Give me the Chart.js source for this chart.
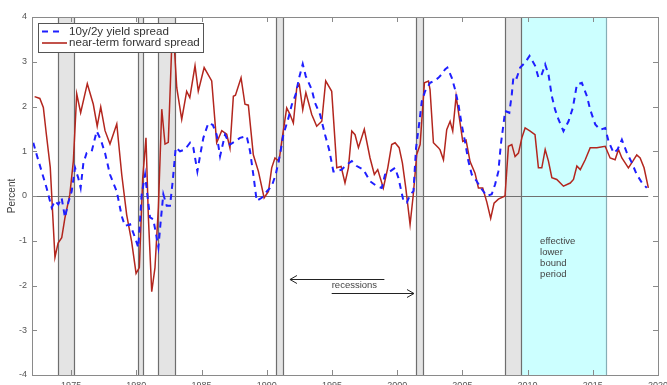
<!DOCTYPE html>
<html>
<head>
<meta charset="utf-8">
<script src="https://cdn.jsdelivr.net/npm/chart.js@4.4.1/dist/chart.umd.min.js"></script>
<style>
  html, body { margin: 0; padding: 0; background: #fff; overflow: hidden; }
  #wrap { width: 667px; height: 395px; }
</style>
</head>
<body>
<div id="wrap"><canvas id="chart" width="667" height="395"></canvas></div>
<script>
// 10y/2y yield spread (blue dashed)
const spreadYears = [1972.1, 1972.36, 1972.74, 1973.12, 1973.51, 1973.76, 1974.02, 1974.27, 1974.53, 1974.78,
  1975.04, 1975.3, 1975.55, 1975.73, 1975.94, 1976.19, 1976.58, 1976.96, 1977.27, 1977.6,
  1977.98, 1978.5, 1978.88, 1979.13, 1979.52, 1979.9, 1980.15, 1980.41, 1980.67, 1980.84,
  1981.05, 1981.3, 1981.51, 1981.69, 1981.87, 1982.07, 1982.33, 1982.58, 1982.79, 1983.02,
  1983.35, 1983.73, 1984.12, 1984.37, 1984.68, 1984.88, 1985.14, 1985.52, 1985.86, 1986.16,
  1986.42, 1986.8, 1987.18, 1987.57, 1987.95, 1988.46, 1988.72, 1988.97, 1989.23, 1989.61,
  1990.0, 1990.38, 1990.69, 1991.02, 1991.27, 1991.66, 1991.92, 1992.22, 1992.48, 1992.76,
  1992.99, 1993.45, 1993.7, 1994.09, 1994.47, 1994.78, 1995.11, 1995.37, 1995.75, 1996.13,
  1996.52, 1996.9, 1997.41, 1997.92, 1998.44, 1998.82, 1999.07, 1999.45, 1999.84, 2000.1,
  2000.48, 2000.74, 2000.99, 2001.25, 2001.45, 2001.71, 2001.89, 2002.14, 2002.52, 2002.85,
  2003.16, 2003.42, 2003.67, 2003.85, 2004.19, 2004.44, 2004.7, 2004.95, 2005.2, 2005.46,
  2005.72, 2006.1, 2006.49, 2006.87, 2007.25, 2007.51, 2007.76, 2007.95, 2008.15, 2008.28,
  2008.6, 2008.79, 2008.92, 2009.17, 2009.43, 2009.81, 2010.15, 2010.58, 2010.84, 2011.09,
  2011.35, 2011.6, 2011.86, 2012.11, 2012.37, 2012.75, 2013.14, 2013.47, 2013.78, 2014.16,
  2014.55, 2014.8, 2015.19, 2015.57, 2015.95, 2016.21, 2016.6, 2016.9, 2017.23, 2017.62,
  2018.0, 2018.37, 2018.76, 2019.14];
const spreadValues = [1.19, 0.92, 0.55, 0.18, -0.26, -0.11, -0.19, -0.04, -0.48, -0.15,
  0.1, 0.63, 0.4, 0.18, 0.74, 0.96, 1.0, 1.45, 1.26, 0.96,
  0.48, 0.1, -0.45, -0.67, -0.63, -0.93, -1.15, 0.03, 0.48, 0.04,
  -0.48, -0.52, -0.85, -1.15, -0.56, 0.04, -0.22, -0.22, 0.33, 1.08,
  1.0, 1.04, 1.19, 1.08, 0.55, 0.89, 1.3, 1.63, 1.59, 1.37,
  0.89, 1.37, 1.15, 1.22, 1.3, 1.34, 1.0, 0.48, -0.11, -0.04,
  0.1, 0.22, 0.48, 0.93, 1.37, 1.74, 2.04, 2.27, 2.64, 2.95,
  2.68, 2.38, 2.08, 1.82, 1.37, 1.04, 0.55, 0.55, 0.59, 0.7,
  0.78, 0.67, 0.59, 0.33, 0.22, 0.18, 0.48, 0.55, 0.63, 0.4,
  -0.11, -0.15, 0.03, 0.11, 1.08, 1.67, 2.12, 2.34, 2.53, 2.57,
  2.64, 2.72, 2.83, 2.87, 2.64, 2.38, 2.04, 1.59, 1.22, 0.78,
  0.48, 0.33, 0.15, 0.0, 0.04, 0.26, 0.55, 1.15, 1.6, 1.9,
  1.86, 2.27, 2.68, 2.64, 2.87, 2.98, 3.13, 2.91, 2.64, 2.72,
  2.94, 2.72, 2.23, 1.93, 1.71, 1.45, 1.67, 1.97, 2.49, 2.53,
  2.23, 1.93, 1.6, 1.48, 1.52, 1.22, 0.96, 1.04, 1.26, 0.96,
  0.74, 0.48, 0.3, 0.18];

// near-term forward spread (red solid)
const fwdYears = [1972.2, 1972.6, 1972.87, 1973.1, 1973.4, 1973.6, 1973.76, 1974.0, 1974.28, 1974.53,
  1974.9, 1975.17, 1975.43, 1975.73, 1976.24, 1976.7, 1977.0, 1977.27, 1977.6, 1977.98,
  1978.5, 1978.88, 1979.26, 1979.64, 1979.98, 1980.23, 1980.49, 1980.74, 1980.92, 1981.18,
  1981.43, 1981.69, 1981.95, 1982.2, 1982.45, 1982.71, 1982.9, 1983.1, 1983.48, 1983.86,
  1984.1, 1984.5, 1984.75, 1985.2, 1985.78, 1986.16, 1986.55, 1986.93, 1987.18, 1987.44,
  1987.6, 1988.03, 1988.33, 1988.59, 1988.97, 1989.36, 1989.8, 1990.13, 1990.38, 1990.63,
  1990.94, 1991.15, 1991.53, 1991.79, 1992.04, 1992.3, 1992.5, 1992.76, 1993.0, 1993.45,
  1993.83, 1994.22, 1994.52, 1994.98, 1995.37, 1995.7, 1996.0, 1996.26, 1996.52, 1996.77,
  1997.03, 1997.48, 1997.92, 1998.25, 1998.51, 1998.94, 1999.28, 1999.58, 1999.84, 2000.15,
  2000.4, 2000.66, 2000.99, 2001.24, 2001.5, 2001.76, 2002.09, 2002.4, 2002.52, 2002.78,
  2003.16, 2003.29, 2003.55, 2003.8, 2004.06, 2004.26, 2004.52, 2004.77, 2005.03, 2005.28,
  2005.59, 2005.97, 2006.23, 2006.56, 2006.87, 2007.17, 2007.43, 2007.76, 2008.27, 2008.53,
  2008.79, 2009.04, 2009.3, 2009.56, 2009.81, 2010.2, 2010.57, 2010.83, 2011.09, 2011.35,
  2011.6, 2011.86, 2012.24, 2012.75, 2013.27, 2013.52, 2013.78, 2014.04, 2014.42, 2014.8,
  2015.31, 2015.95, 2016.33, 2016.71, 2016.97, 2017.23, 2017.48, 2017.73, 2018.07, 2018.37,
  2018.63, 2018.93, 2019.26];
const fwdValues = [2.22, 2.18, 1.98, 1.38, 0.64, -0.48, -1.37, -1.05, -0.93, -0.48,
  0.03, 0.78, 2.28, 1.86, 2.51, 2.05, 1.56, 1.99, 1.46, 1.16,
  1.61, 0.48, -0.42, -1.02, -1.73, -1.6, 0.4, 1.3, -0.45, -2.14,
  -1.6, -0.26, 1.94, 1.16, 1.2, 3.32, 3.4, 2.42, 1.71, 2.34,
  2.2, 2.91, 2.34, 2.87, 2.57, 1.19, 1.46, 1.38, 1.07, 2.23,
  2.25, 2.64, 2.05, 2.03, 0.92, 0.55, -0.04, 0.1, 0.63, 0.85,
  0.78, 1.22, 1.97, 1.82, 1.63, 2.42, 2.49, 1.93, 2.31, 1.82,
  1.56, 1.67, 2.57, 2.34, 0.63, 0.66, 0.29, 0.63, 1.45, 1.37,
  1.08, 1.49, 0.85, 0.48, 0.59, 0.18, 0.63, 1.15, 1.19, 1.08,
  0.74, 0.18, -0.64, 0.04, 0.93, 1.15, 2.53, 2.57, 2.38, 1.19,
  1.08, 1.03, 0.81, 1.48, 1.67, 1.45, 2.23, 1.74, 1.22, 1.25,
  0.77, 0.51, 0.18, 0.18, -0.13, -0.5, -0.16, -0.07, 0.0, 1.11,
  1.15, 0.88, 0.96, 1.3, 1.52, 1.45, 1.37, 0.63, 0.63, 1.04,
  0.78, 0.41, 0.37, 0.22, 0.29, 0.37, 0.67, 0.59, 0.81, 1.08,
  1.08, 1.11, 0.85, 0.81, 1.04, 0.85, 0.74, 0.63, 0.78, 0.92,
  0.85, 0.63, 0.18];

// shaded periods
const recessionStarts = [1973.97, 1980.15, 1981.66, 1990.71, 2001.45, 2008.25];
const recessionEnds = [1975.22, 1980.49, 1982.97, 1991.22, 2002.0, 2009.5];
const zlbStart = 2009.5, zlbEnd = 2016.04;

const xTicks = [1975, 1980, 1985, 1990, 1995, 2000, 2005, 2010, 2015, 2020];
const yTicks = [-4, -3, -2, -1, 0, 1, 2, 3, 4];

const FONT = "'Liberation Sans', Arial, Helvetica, sans-serif";

function arrow(ctx, x1, x2, y) {
  const d = x2 > x1 ? -1 : 1;
  ctx.beginPath();
  ctx.moveTo(x1, y); ctx.lineTo(x2, y);
  ctx.moveTo(x2 + d * 7, y - 4); ctx.lineTo(x2, y); ctx.lineTo(x2 + d * 7, y + 4);
  ctx.stroke();
}

const matlabLook = {
  id: 'matlabLook',
  beforeDatasetsDraw(chart) {
    const {ctx, chartArea: a, scales: {x, y}} = chart;
    ctx.save();
    // effective lower bound period
    let l = x.getPixelForValue(zlbStart), r = x.getPixelForValue(zlbEnd);
    ctx.fillStyle = 'rgb(204,255,255)';
    ctx.fillRect(l, a.top, r - l, a.bottom - a.top);
    ctx.strokeStyle = '#86aeb6';
    ctx.lineWidth = 1.2;
    ctx.beginPath();
    ctx.moveTo(Math.round(r) + 0.5, a.top); ctx.lineTo(Math.round(r) + 0.5, a.bottom);
    ctx.stroke();
    // recessions
    recessionStarts.forEach((s, i) => {
      const x0 = Math.round(x.getPixelForValue(s)) + 0.5;
      const x1 = Math.round(x.getPixelForValue(recessionEnds[i])) + 0.5;
      ctx.fillStyle = '#e4e4e4';
      ctx.fillRect(x0, a.top, x1 - x0, a.bottom - a.top);
      ctx.strokeStyle = '#6e6e6e';
      ctx.lineWidth = 1.2;
      ctx.beginPath();
      ctx.moveTo(x0, a.top); ctx.lineTo(x0, a.bottom);
      ctx.moveTo(x1, a.top); ctx.lineTo(x1, a.bottom);
      ctx.stroke();
    });
    // zero line
    const y0 = Math.round(y.getPixelForValue(0)) + 0.5;
    ctx.strokeStyle = '#707070';
    ctx.lineWidth = 1;
    ctx.beginPath();
    ctx.moveTo(a.left, y0);
    ctx.lineTo(x.getPixelForValue(2019.25), y0);
    ctx.stroke();
    ctx.restore();
  },
  afterDraw(chart) {
    const {ctx, chartArea: a, scales: {x, y}} = chart;
    ctx.save();
    // box and inward ticks
    ctx.strokeStyle = '#8a8a8a';
    ctx.lineWidth = 1;
    ctx.strokeRect(Math.round(a.left) + 0.5, Math.round(a.top) + 0.5,
      Math.round(a.right - a.left), Math.round(a.bottom - a.top));
    ctx.beginPath();
    xTicks.forEach(v => {
      const px = Math.round(x.getPixelForValue(v)) + 0.5;
      ctx.moveTo(px, a.bottom); ctx.lineTo(px, a.bottom - 5);
      ctx.moveTo(px, a.top); ctx.lineTo(px, a.top + 5);
    });
    yTicks.forEach(v => {
      const py = Math.round(y.getPixelForValue(v)) + 0.5;
      ctx.moveTo(a.left, py); ctx.lineTo(a.left + 5, py);
      ctx.moveTo(a.right, py); ctx.lineTo(a.right - 5, py);
    });
    ctx.stroke();

    // legend
    ctx.fillStyle = '#fff';
    ctx.fillRect(38.5, 23.5, 165, 29);
    ctx.strokeStyle = '#555';
    ctx.strokeRect(38.5, 23.5, 165, 29);
    ctx.lineWidth = 2;
    ctx.strokeStyle = '#1f1fff';
    ctx.setLineDash([6, 5]);
    ctx.beginPath(); ctx.moveTo(42, 31.5); ctx.lineTo(64, 31.5); ctx.stroke();
    ctx.setLineDash([]);
    ctx.lineWidth = 1.6;
    ctx.strokeStyle = '#b3261e';
    ctx.beginPath(); ctx.moveTo(42, 43); ctx.lineTo(67, 43); ctx.stroke();
    ctx.fillStyle = '#333';
    ctx.font = '11.6px ' + FONT;
    ctx.textBaseline = 'middle';
    ctx.textAlign = 'left';
    ctx.fillText('10y/2y yield spread', 69, 31.5);
    ctx.fillText('near-term forward spread', 69, 43);

    // recessions annotation
    ctx.strokeStyle = '#222';
    ctx.lineWidth = 1;
    arrow(ctx, x.getPixelForValue(1999.02), x.getPixelForValue(1991.78), Math.round(y.getPixelForValue(-1.86)) + 0.5);
    arrow(ctx, x.getPixelForValue(1994.98), x.getPixelForValue(2001.29), Math.round(y.getPixelForValue(-2.16)) + 0.5);
    ctx.fillStyle = '#444';
    ctx.font = '9.5px ' + FONT;
    ctx.fillText('recessions', x.getPixelForValue(1994.98), y.getPixelForValue(-2.0));

    // elb annotation
    ['effective', 'lower', 'bound', 'period'].forEach((t, i) => {
      ctx.fillText(t, x.getPixelForValue(2010.96), y.getPixelForValue(-1.01 - 0.25 * i));
    });
    ctx.restore();
  }
};

new Chart(document.getElementById('chart'), {
  type: 'line',
  data: {
    datasets: [
      {
        label: '10y/2y yield spread',
        data: spreadYears.map((t, i) => ({x: t, y: spreadValues[i]})),
        borderColor: '#1f1fff',
        borderWidth: 2,
        borderDash: [6, 5],
        pointRadius: 0,
        tension: 0,
        fill: false
      },
      {
        label: 'near-term forward spread',
        data: fwdYears.map((t, i) => ({x: t, y: fwdValues[i]})),
        borderColor: '#b3261e',
        borderWidth: 1.5,
        pointRadius: 0,
        tension: 0,
        fill: false
      }
    ]
  },
  options: {
    responsive: false,
    devicePixelRatio: 1,
    animation: false,
    layout: {padding: {top: 17, right: 9, left: 0, bottom: 0}},
    plugins: {legend: {display: false}, tooltip: {enabled: false}},
    scales: {
      x: {
        type: 'linear',
        min: 1972,
        max: 2020,
        grid: {display: false, drawTicks: false},
        border: {display: false},
        afterBuildTicks: axis => { axis.ticks = xTicks.map(v => ({value: v})); },
        afterFit: s => { s.height = 20; s.paddingLeft = 0; s.paddingRight = 0; },
        ticks: {
          padding: 5,
          maxRotation: 0,
          autoSkip: false,
          color: '#555',
          font: {family: FONT, size: 9},
          callback: v => String(v)
        }
      },
      y: {
        min: -4,
        max: 4,
        grid: {display: false, drawTicks: false},
        border: {display: false},
        afterBuildTicks: axis => { axis.ticks = yTicks.map(v => ({value: v})); },
        afterFit: s => { s.width = 32; s.paddingTop = 0; s.paddingBottom = 0; },
        title: {
          display: true,
          text: 'Percent',
          color: '#444',
          font: {family: FONT, size: 10},
          padding: {top: 6, bottom: 0}
        },
        ticks: {
          padding: 5,
          color: '#555',
          font: {family: FONT, size: 9},
          callback: v => String(v)
        }
      }
    }
  },
  plugins: [matlabLook]
});
</script>
</body>
</html>
